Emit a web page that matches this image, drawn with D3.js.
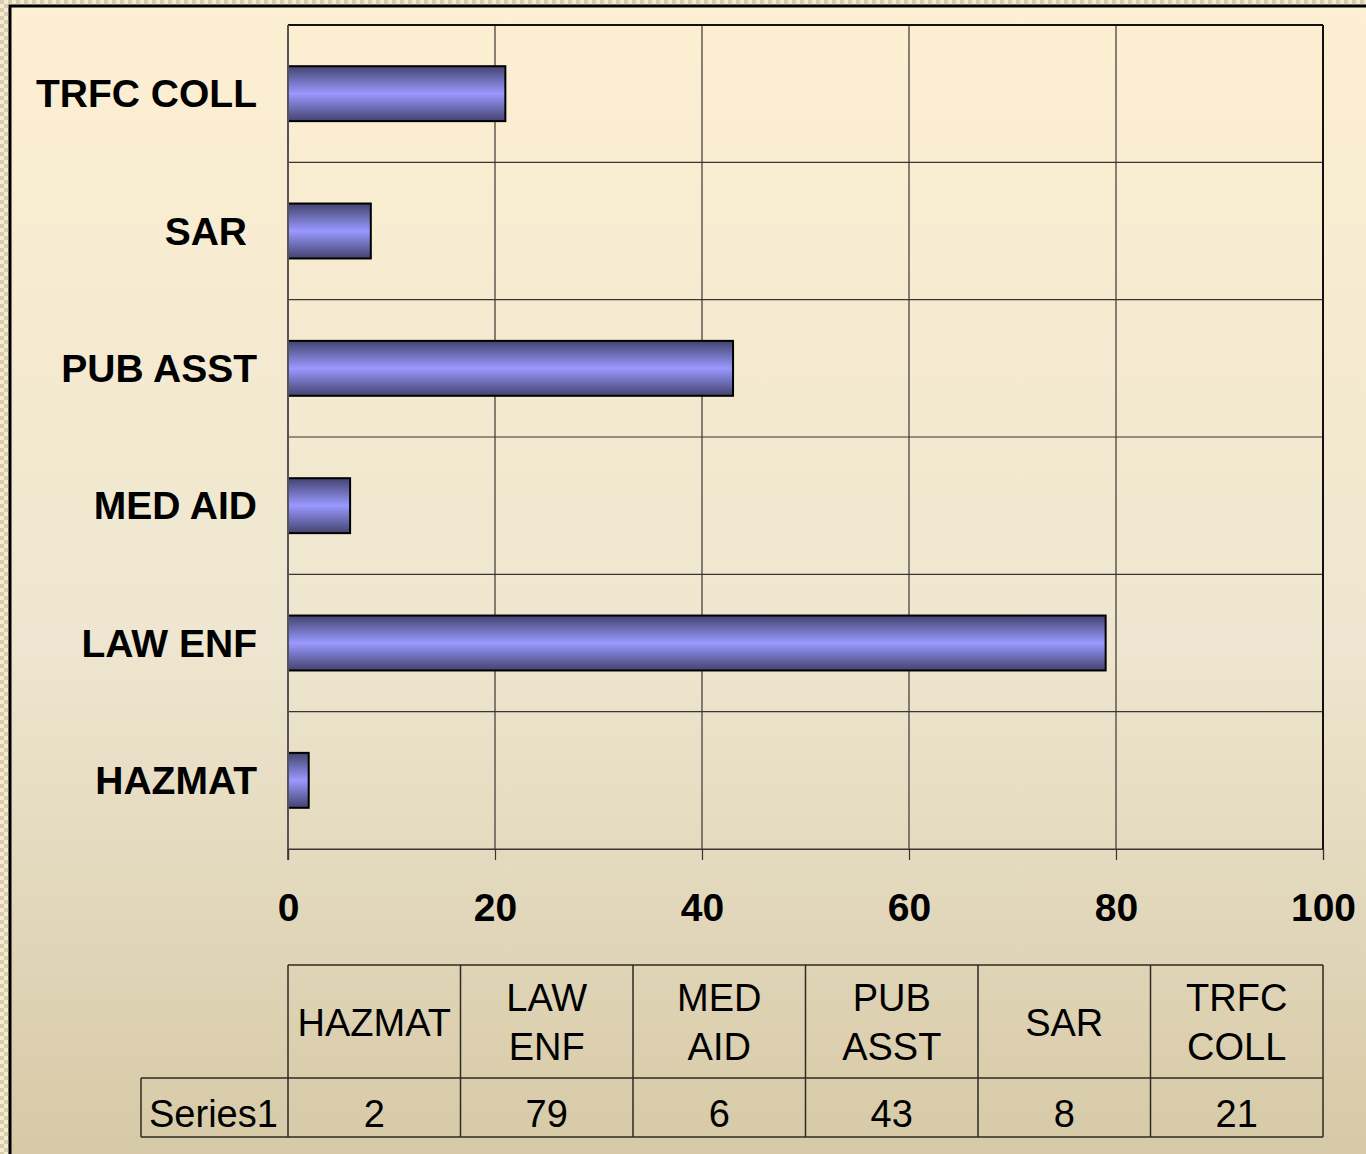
<!DOCTYPE html>
<html>
<head>
<meta charset="utf-8">
<script src="https://d3js.org/d3.v7.min.js"></script>
<style>
  body { margin: 0; }
  svg { display: block; }
</style>
</head>
<body>
<script>
// data
const categories = ['HAZMAT', 'LAW ENF', 'MED AID', 'PUB ASST', 'SAR', 'TRFC COLL']
const series1 = [2, 79, 6, 43, 8, 21]
const tableHeads = [['HAZMAT'], ['LAW', 'ENF'], ['MED', 'AID'], ['PUB', 'ASST'], ['SAR'], ['TRFC', 'COLL']]
const xTicks = [0, 20, 40, 60, 80, 100]
const seriesName = 'Series1'

const W = 1366, H = 1154
const svg = d3.select('body').append('svg')
  .attr('width', W)
  .attr('height', H)

const defs = svg.append('defs')

// checkered backdrop outside the slide
const pat = defs.append('pattern')
  .attr('id', 'checker')
  .attr('width', 8).attr('height', 8)
  .attr('patternUnits', 'userSpaceOnUse')
pat.append('rect').attr('width', 8).attr('height', 8).attr('fill', '#f4ead0')
pat.append('rect').attr('width', 4).attr('height', 4).attr('fill', '#d9ccaa')
pat.append('rect').attr('x', 4).attr('y', 4).attr('width', 4).attr('height', 4).attr('fill', '#d9ccaa')

const bg = defs.append('linearGradient').attr('id', 'bg')
  .attr('x1', 0).attr('y1', 0).attr('x2', 0).attr('y2', 1)
bg.append('stop').attr('offset', '0%').attr('stop-color', '#fdefd2')
bg.append('stop').attr('offset', '55%').attr('stop-color', '#eee6d0')
bg.append('stop').attr('offset', '100%').attr('stop-color', '#d6c9a6')

const barGrad = defs.append('linearGradient').attr('id', 'bar')
  .attr('x1', 0).attr('y1', 0).attr('x2', 0).attr('y2', 1)
barGrad.append('stop').attr('offset', '0%').attr('stop-color', '#43436f')
barGrad.append('stop').attr('offset', '50%').attr('stop-color', '#9999ff')
barGrad.append('stop').attr('offset', '100%').attr('stop-color', '#43436f')

svg.append('rect').attr('width', W).attr('height', H).attr('fill', 'url(#checker)')
svg.append('rect')
  .attr('x', 10).attr('y', 6)
  .attr('width', W).attr('height', H)
  .attr('fill', 'url(#bg)')
  .attr('stroke', '#000').attr('stroke-width', 3)

// plot area
const pLeft = 288, pRight = 1323, pTop = 25, pBottom = 849

const x = d3.scaleLinear().domain([0, 100]).range([pLeft, pRight])
const y = d3.scaleBand()
  .domain(categories.slice().reverse())
  .range([pTop, pBottom])
  .paddingInner(0).paddingOuter(0)

const grid = svg.append('g')
// vertical grid
grid.selectAll('line.v').data(xTicks.slice(1)).join('line')
  .attr('x1', d => x(d)).attr('x2', d => x(d))
  .attr('y1', pTop).attr('y2', pBottom)
  .attr('stroke', '#3a3530').attr('stroke-width', 1.2)
// horizontal grid
const bounds = categories.map(c => y(c)).concat([pBottom])
grid.selectAll('line.h').data(bounds).join('line')
  .attr('x1', pLeft).attr('x2', pRight)
  .attr('y1', d => d).attr('y2', d => d)
  .attr('stroke', '#3a3530').attr('stroke-width', 1.2)
grid.append('line')
  .attr('x1', pLeft).attr('x2', pRight).attr('y1', pTop).attr('y2', pTop)
  .attr('stroke', '#111').attr('stroke-width', 2)
grid.append('line')
  .attr('x1', pRight).attr('x2', pRight).attr('y1', pTop).attr('y2', pBottom)
  .attr('stroke', '#111').attr('stroke-width', 2)

// bars
const barH = y.bandwidth() * 0.4
svg.append('g').selectAll('rect').data(categories).join('rect')
  .attr('x', x(0))
  .attr('y', d => y(d) + (y.bandwidth() - barH) / 2)
  .attr('width', (d, i) => x(series1[i]) - x(0))
  .attr('height', barH)
  .attr('fill', 'url(#bar)')
  .attr('stroke', '#000').attr('stroke-width', 2)

// left axis line
svg.append('line')
  .attr('x1', pLeft).attr('x2', pLeft).attr('y1', pTop).attr('y2', pBottom + 11)
  .attr('stroke', '#555').attr('stroke-width', 2)

// x axis
const axisX = d3.axisBottom(x).tickValues(xTicks).tickSize(11).tickPadding(33)
const gx = svg.append('g').attr('transform', `translate(0, ${pBottom})`).call(axisX)
gx.select('.domain').attr('stroke', '#3a3530').attr('stroke-width', 1.2)
gx.selectAll('.tick line').attr('stroke', '#3a3530').attr('stroke-width', 1.2)
gx.selectAll('.tick text')
  .attr('fill', '#000')
  .style('font-family', 'Liberation Sans, Arial, sans-serif')
  .style('font-size', '39px')
  .style('font-weight', 'bold')

// y labels
svg.append('g').selectAll('text').data(categories).join('text')
  .attr('x', d => d === 'SAR' ? 247 : 257)
  .attr('y', d => y(d) + y.bandwidth() / 2)
  .attr('text-anchor', 'end')
  .attr('dy', '0.35em')
  .style('font-family', 'Liberation Sans, Arial, sans-serif')
  .style('font-size', '39px')
  .style('font-weight', 'bold')
  .text(d => d)

// data table
const tTop = 965, tMid = 1078, tBot = 1137, tLeft = 141
const col = d3.scaleBand().domain(categories).range([pLeft, pRight])
const tbl = svg.append('g')
const lineC = '#2e2a25'
const hl = (x1, x2, yy) => tbl.append('line').attr('x1', x1).attr('x2', x2).attr('y1', yy).attr('y2', yy)
  .attr('stroke', lineC).attr('stroke-width', 1.5)
const vl = (xx, y1, y2) => tbl.append('line').attr('x1', xx).attr('x2', xx).attr('y1', y1).attr('y2', y2)
  .attr('stroke', lineC).attr('stroke-width', 1.5)
hl(pLeft, pRight, tTop)
hl(tLeft, pRight, tMid)
hl(tLeft, pRight, tBot)
vl(tLeft, tMid, tBot)
categories.forEach(c => vl(col(c), tTop, tBot))
vl(pRight, tTop, tBot)

const fontT = 'Liberation Sans, Arial, sans-serif'
tableHeads.forEach((lines, i) => {
  const cx = col(categories[i]) + col.bandwidth() / 2
  const cy = (tTop + tMid) / 2 + 1
  const lh = 49
  lines.forEach((t, j) => {
    tbl.append('text')
      .attr('x', cx)
      .attr('y', cy + (j - (lines.length - 1) / 2) * lh)
      .attr('dy', '0.35em')
      .attr('text-anchor', 'middle')
      .style('font-family', fontT).style('font-size', '38px')
      .text(t)
  })
})
const rowY = tMid + 36
tbl.selectAll('text.val').data(series1).join('text')
  .attr('x', (d, i) => col(categories[i]) + col.bandwidth() / 2)
  .attr('y', rowY)
  .attr('dy', '0.35em')
  .attr('text-anchor', 'middle')
  .style('font-family', fontT).style('font-size', '38px')
  .text(d => d)
tbl.append('text')
  .attr('x', 149)
  .attr('y', rowY)
  .attr('dy', '0.35em')
  .style('font-family', fontT).style('font-size', '38px')
  .text(seriesName)
</script>
</body>
</html>
